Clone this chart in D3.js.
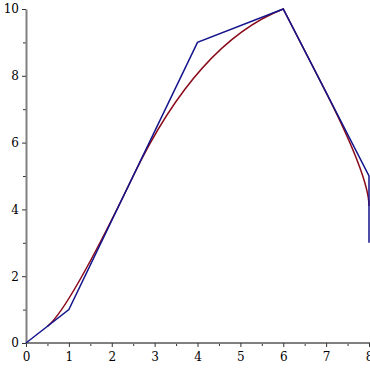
<html>
<head>
  <style>
  body {
    margin: 0;
    background: #fff;
  }
  .axis text {
    font-family: "DejaVu Serif", serif;
    font-size: 12px;
    fill: #000;
  }
  .axis .domain {
    stroke: #808080;
    stroke-width: 2px;
  }
  .axis .tick line {
    stroke: #333;
  }
  </style>
</head>
<body>
<div id="chart"></div>
<script src="https://d3js.org/d3.v7.min.js"></script>
<script>
// control polygon (blue)
var polyX = [0, 1, 4, 6, 8, 8];
var polyY = [0, 1, 9, 10, 5, 3];

// smooth curve (red): start point, then segments of [control, end] (control null = straight)
var curveStart = [0.5, 0.5];
var curveCtrlX = [1, 4, null, 8];
var curveCtrlY = [1, 9, null, 5];
var curveEndX = [2.5, 6, 6.9, 8];
var curveEndY = [5, 10, 7.75, 4.1];

var xTicks = [0, 1, 2, 3, 4, 5, 6, 7, 8];
var yTicks = [0, 2, 4, 6, 8, 10];

var width = 370, height = 370;

var svg = d3.select("#chart")
  .append("svg")
    .attr("width", width)
    .attr("height", height);

var x = d3.scaleLinear().domain([0, 8]).range([26, 369]);
var y = d3.scaleLinear().domain([0, 10]).range([343, 9]);

// minor ticks
svg.append("g")
  .attr("class", "axis")
  .attr("transform", "translate(0," + y(0) + ")")
  .call(d3.axisBottom(x).tickValues(d3.range(0.5, 8, 1)).tickSize(3).tickFormat(""))
  .select(".domain").remove();
svg.append("g")
  .attr("class", "axis")
  .attr("transform", "translate(" + x(0) + ",0)")
  .call(d3.axisLeft(y).tickValues(d3.range(1, 10, 2)).tickSize(3).tickFormat(""))
  .select(".domain").remove();

// major axes
var xAxis = svg.append("g")
  .attr("class", "axis")
  .attr("transform", "translate(0," + y(0) + ")")
  .call(d3.axisBottom(x).tickValues(xTicks).tickSize(4).tickSizeOuter(0).tickPadding(5));
xAxis.select(".domain").attr("d", "M" + x(0) + ",0H" + width);

var yAxis = svg.append("g")
  .attr("class", "axis")
  .attr("transform", "translate(" + x(0) + ",0)")
  .call(d3.axisLeft(y).tickValues(yTicks).tickSize(4).tickSizeOuter(0).tickPadding(3));

// red curve
var p = d3.path();
p.moveTo(x(curveStart[0]), y(curveStart[1]));
curveEndX.forEach(function(ex, i) {
  if (curveCtrlX[i] === null) {
    p.lineTo(x(ex), y(curveEndY[i]));
  } else {
    p.quadraticCurveTo(x(curveCtrlX[i]), y(curveCtrlY[i]), x(ex), y(curveEndY[i]));
  }
});
svg.append("path")
  .attr("d", p.toString())
  .attr("fill", "none")
  .attr("stroke", "#8b0a1a")
  .attr("stroke-width", 1.5);

// blue polygon
var line = d3.line()
  .x(function(d, i) { return x(polyX[i]); })
  .y(function(d, i) { return y(polyY[i]); });
svg.append("path")
  .attr("d", line(polyX))
  .attr("fill", "none")
  .attr("stroke", "#14148c")
  .attr("stroke-width", 1.5);
</script>
</body>
</html>
